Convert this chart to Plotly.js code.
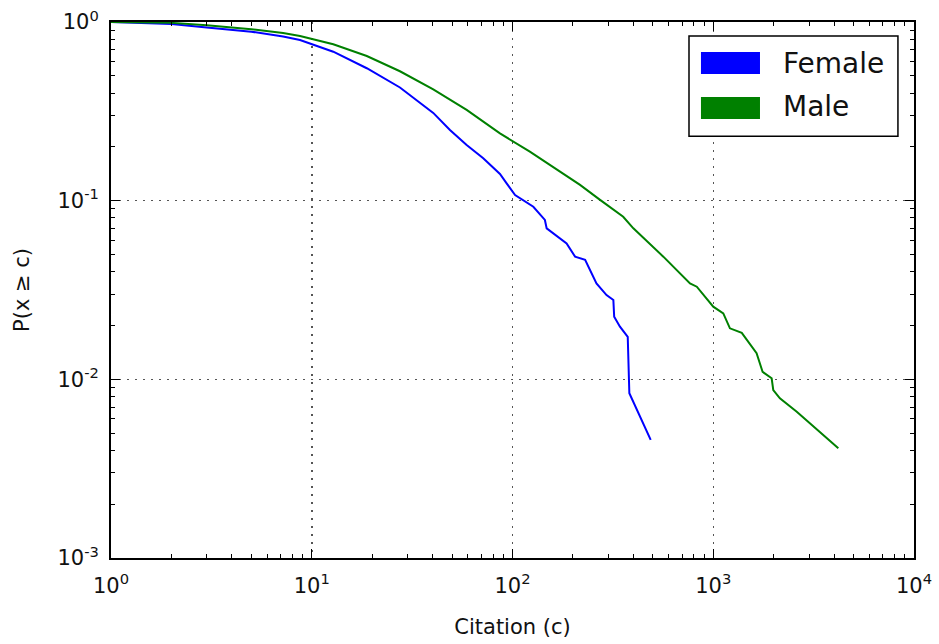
<!DOCTYPE html>
<html>
<head>
<meta charset="utf-8">
<script src="https://cdn.plot.ly/plotly-3.0.1.min.js"></script>
<style>html,body{margin:0;padding:0;background:#fff;}#chart{width:939px;height:644px;}</style>
</head>
<body>
<div id="chart"></div>
<script>
// Female CCDF (citation c, P(x >= c))
const femaleC = [1, 2, 3, 4, 5, 7.2, 8.74, 12.8, 18.8, 27.5, 33.3, 40.3, 48.8, 59.1, 71.5, 86.6, 93.5, 103, 127, 145, 148, 186, 205, 230, 262, 294, 318, 321, 343, 375, 382, 488];
const femaleP = [1, 0.975, 0.933, 0.908, 0.883, 0.83, 0.793, 0.682, 0.551, 0.43, 0.366, 0.31, 0.2486, 0.205, 0.1726, 0.141, 0.125, 0.1076, 0.0925, 0.078, 0.070, 0.0577, 0.0486, 0.0466, 0.0344, 0.0296, 0.0278, 0.0224, 0.0197, 0.0173, 0.00836, 0.00458];
// Male CCDF
const maleC = [1, 2, 3, 5, 7.2, 8.74, 12.8, 18.8, 27.5, 40.3, 59.1, 86.6, 122, 172, 217, 273, 356, 400, 564, 766, 828, 1000, 1122, 1211, 1387, 1644, 1762, 1954, 1991, 2148, 2606, 4198];
const maleP = [1, 0.989, 0.959, 0.912, 0.867, 0.835, 0.75, 0.645, 0.53, 0.42, 0.322, 0.238, 0.188, 0.145, 0.1225, 0.101, 0.0813, 0.070, 0.0486, 0.0344, 0.033, 0.0255, 0.0234, 0.0193, 0.0182, 0.014, 0.011, 0.01014, 0.0087, 0.00783, 0.00659, 0.00411];

const seriesNames = ["Female", "Male"];
const xTickVals = [1, 10, 100, 1000, 10000];
const xTickText = ["10<sup>0</sup>", "10<sup>1</sup>", "10<sup>2</sup>", "10<sup>3</sup>", "10<sup>4</sup>"];
const yTickVals = [0.001, 0.01, 0.1, 1];
const yTickText = ["10<sup>-3</sup>", "10<sup>-2</sup>", "10<sup>-1</sup>", "10<sup>0</sup>"];

const FONT = "DejaVu Sans, sans-serif";
const BLUE = "#0000ff";
const GREEN = "#008000";

const traces = [
  {x: femaleC, y: femaleP, mode: "lines", name: seriesNames[0], line: {color: BLUE, width: 2}, showlegend: false},
  {x: maleC, y: maleP, mode: "lines", name: seriesNames[1], line: {color: GREEN, width: 2}, showlegend: false}
];

const axisCommon = {
  showline: true, linecolor: "#000", linewidth: 2, mirror: "allticks",
  ticks: "inside", ticklen: 9, tickwidth: 1.2, tickcolor: "#000",
  showgrid: true, gridcolor: "#555", griddash: "2px,6px", gridwidth: 1.5,
  zeroline: false, tickfont: {family: FONT, size: 21, color: "#111"},
  minor: {ticks: "inside", ticklen: 4, tickwidth: 1, tickcolor: "#000", showgrid: false, dtick: "D1"}
};

const layout = {
  width: 939, height: 644,
  margin: {l: 111, r: 25, t: 22, b: 86},
  paper_bgcolor: "#fff", plot_bgcolor: "#fff",
  font: {family: FONT, color: "#111"},
  xaxis: Object.assign({}, axisCommon, {
    type: "log", range: [0, 4], tickmode: "array", tickvals: xTickVals, ticktext: xTickText,
    ticklabelstandoff: 8,
    title: {text: "Citation (c)", font: {family: FONT, size: 21, color: "#111"}, standoff: 22}
  }),
  yaxis: Object.assign({}, axisCommon, {
    type: "log", range: [-3, 0], tickmode: "array", tickvals: yTickVals, ticktext: yTickText,
    ticklabelstandoff: 6,
    title: {text: "P(x ≥ c)", font: {family: FONT, size: 21, color: "#111"}, standoff: 22}
  }),
  shapes: [
    {type: "rect", xref: "paper", yref: "paper", x0: 0.7198, x1: 0.980, y0: 0.787, y1: 0.974, line: {color: "#000", width: 1.5}, fillcolor: "#fff"},
    {type: "rect", xref: "paper", yref: "paper", x0: 0.7347, x1: 0.8082, y0: 0.903, y1: 0.944, line: {width: 0}, fillcolor: BLUE},
    {type: "rect", xref: "paper", yref: "paper", x0: 0.7347, x1: 0.8082, y0: 0.819, y1: 0.860, line: {width: 0}, fillcolor: GREEN}
  ],
  annotations: [
    {xref: "paper", yref: "paper", x: 0.8344, y: 0.9235, xanchor: "left", yanchor: "middle", text: seriesNames[0], showarrow: false, font: {family: FONT, size: 28, color: "#111"}},
    {xref: "paper", yref: "paper", x: 0.8344, y: 0.843, xanchor: "left", yanchor: "middle", text: seriesNames[1], showarrow: false, font: {family: FONT, size: 28, color: "#111"}}
  ],
  showlegend: false
};

Plotly.newPlot("chart", traces, layout, {staticPlot: true});
</script>
</body>
</html>
